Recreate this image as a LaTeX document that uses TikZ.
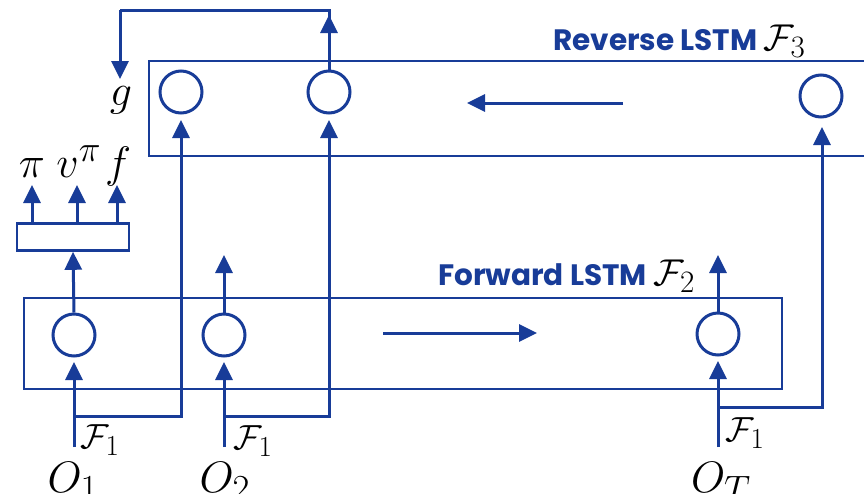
\documentclass[tikz,border=0pt]{standalone}
\usepackage{fontspec}
\usepackage{graphicx}
\usetikzlibrary{arrows.meta}
\newfontfamily\labfont{Poppins}
\definecolor{dblue}{RGB}{24,60,152}
\newcommand\SMath[2]{\scalebox{#1}{\fontsize{24.88}{30}\selectfont\color{black}$#2$}}
\begin{document}
\begin{tikzpicture}[x=1pt,y=-1pt,
  ln/.style={draw=dblue,line width=3pt},
  bx/.style={draw=dblue,line width=2.6pt},
  arr/.style={ln,-{Triangle[length=18pt,width=17pt]}},
  cell/.style={circle,draw=dblue,line width=3pt,minimum size=42pt,inner sep=0pt},
  big/.style={inner sep=0pt},
  fl/.style={inner sep=0pt},
  lstm/.style={font=\labfont\bfseries\fontsize{29.5}{34}\selectfont,text=dblue,inner sep=0pt}]
\clip (0,0) rectangle (864,493);
\fill[white] (0,0) rectangle (864,493);
% boxes
\draw[bx] (880,61) -- (149,61) -- (149,156) -- (880,156);
\draw[bx] (24,298) rectangle (782,389);
\node[bx,minimum width=112pt,minimum height=27pt,inner sep=0pt] (head) at (73,237) {};
% cells
\node[cell] (r1) at (181,92) {};
\node[cell] (r2) at (329,92) {};
\node[cell] (r3) at (821,96) {};
\node[cell] (f1) at (74,335) {};
\node[cell] (f2) at (224,335) {};
\node[cell] (f3) at (718,334) {};
% labels
\node[lstm,anchor=base west] (revlab) at (553,50) {Reverse LSTM \SMath{1.5}{\mathcal{F}_3}};
\node[lstm,anchor=base west] (fwdlab) at (438,285) {Forward LSTM \SMath{1.5}{\mathcal{F}_2}};
\node[big] (g) at (121,100) {\SMath{1.77}{g}};
\node[big,anchor=base] (pi) at (32,177) {\SMath{1.77}{\pi}};
\node[big,anchor=base] (v) at (79,177) {\SMath{1.77}{v^\pi}};
\node[big,anchor=base] (f) at (118,177) {\SMath{1.77}{f}};
\node[big,anchor=base] (o1) at (73,492) {\SMath{1.77}{O_1}};
\node[big,anchor=base] (o2) at (225,492) {\SMath{1.77}{O_2}};
\node[big,anchor=base] (oT) at (721,492) {\SMath{1.77}{O_T}};
\node[fl] (F1a) at (100,440) {\SMath{1.4}{\mathcal{F}_1}};
\node[fl] (F1b) at (253,441) {\SMath{1.4}{\mathcal{F}_1}};
\node[fl] (F1c) at (745,433) {\SMath{1.4}{\mathcal{F}_1}};
% coordinates
\coordinate (s1) at (74,447);
\coordinate (s2) at (224,447);
\coordinate (s3) at (718,447);
\coordinate (top) at (329,10);
\coordinate (gin) at (120,79);
% reverse arrow
\coordinate (ra) at (623,103);
\coordinate (rb) at (467,103);
\draw[arr] (ra) -- (rb);
% forward arrow
\coordinate (fa) at (383,333);
\coordinate (fb) at (537,333);
\draw[arr] (fa) -- (fb);
% inputs
\draw[arr] (s1) -- (74,362);
\draw[arr] (s2) -- (224,362);
\draw[arr] (s3) -- (718,361);
% F1 to reverse
\draw[arr] (74,416) -- (181,416) -- (181,120);
\draw[arr] (224,416) -- (329,416) -- (329,120);
\draw[arr] (718,407) -- (822,407) -- (822,127);
% forward outputs
\draw[arr] (f1.north) -- (head.south);
\draw[arr] (f2.north) -- (224,255);
\draw[arr] (f3.north) -- (718,255);
% head outputs
\draw[arr] (32,224) -- (32,185);
\draw[arr] (77,224) -- (77,185);
\draw[arr] (117,224) -- (117,185);
% feedback
\draw[ln] (r2.north) -- (top) -- (120,10);
\draw[arr] (r2.north) -- (329,15);
\draw[arr] (120,10) -- (gin);
\end{tikzpicture}
\end{document}
